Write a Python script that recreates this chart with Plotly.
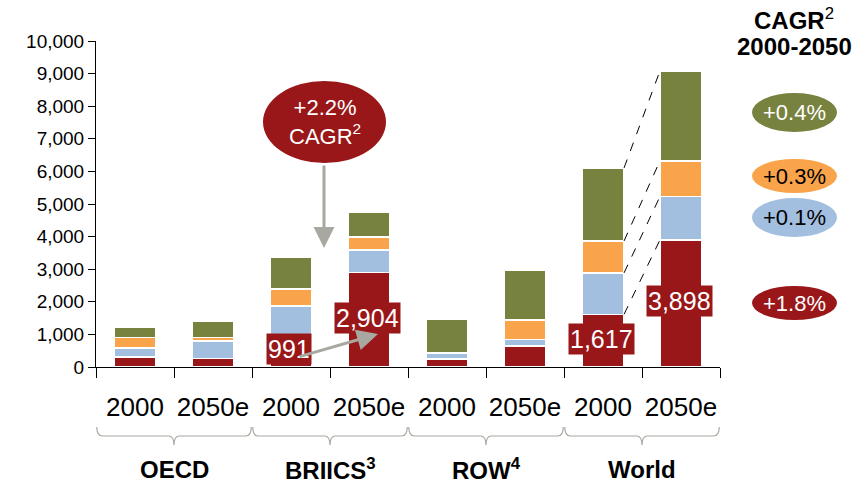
import numpy as np
import plotly.graph_objects as go

# data
cats = ["2000", "2050e"] * 4
groups = ["OECD", "BRIICS<sup>3</sup>", "ROW<sup>4</sup>", "World"]
red = [300, 260, 991, 2904, 240, 645, 1617, 3898]
blue = [290, 540, 880, 680, 170, 205, 1270, 1330]
orange = [320, 100, 520, 410, 30, 585, 980, 1095]
green = [305, 500, 980, 765, 1040, 1530, 2240, 2760]
labelled = [2, 3, 6, 7]          # bars with a value box on the red part
cagr_region = "+2.2%<br>CAGR<sup>2</sup>"
cagr_world = ["+1.8%", "+0.1%", "+0.3%", "+0.4%"]   # red, blue, orange, green

RED = "#9A1719"
BLUE = "#A3BFE0"
ORANGE = "#F9A34A"
GREEN = "#78823F"
GREY = "#A8A8A0"
FONT = "Arial, Liberation Sans, sans-serif"

# plot area in pixels (for decorations placed in paper coords)
L, R, T, B = 96, 720, 41, 367
def px(x):
    return (x - L) / (R - L)
def py(y):
    return (B - y) / (B - T)

xs = list(range(len(cats)))
bw = 0.54

fig = go.Figure()
for vals, col in [(red, RED), (blue, BLUE), (orange, ORANGE), (green, GREEN)]:
    fig.add_trace(go.Bar(x=xs, y=vals, width=bw, marker_color=col,
                         marker_line=dict(color="white", width=1.5),
                         hoverinfo="skip"))

fig.update_layout(
    barmode="stack", width=860, height=483, showlegend=False,
    plot_bgcolor="white", paper_bgcolor="white",
    margin=dict(l=L, r=860 - R, t=T, b=483 - B),
    font=dict(family=FONT, color="black"),
)
fig.update_xaxes(range=[-0.5, 7.5], tickvals=xs, ticktext=cats, ticks="",
                 tickfont=dict(size=26), ticklabelstandoff=17,
                 showline=True, linecolor="black", linewidth=1, showgrid=False,
                 minor=dict(tickvals=[i - 0.5 for i in range(9)], ticks="outside",
                            ticklen=10, tickcolor="black", tickwidth=1))
fig.update_yaxes(range=[0, 10000], dtick=1000, tickformat=",", ticks="outside",
                 ticklen=7, tickcolor="black", tickfont=dict(size=19),
                 showline=True, linecolor="black", linewidth=1, showgrid=False,
                 zeroline=False)

shapes = []
ann = []

def label(x, y, text, size, color="black", **kw):
    ann.append(dict(xref="paper", yref="paper", x=x, y=y, text=text, showarrow=False,
                    xanchor="center", yanchor="middle",
                    font=dict(size=size, color=color), **kw))

# value boxes on the red segments
for i in labelled:
    ann.append(dict(x=i, y=red[i] / 2, text=f"{red[i]:,}", showarrow=False,
                    xanchor="center", yanchor="middle",
                    xshift=-2, yshift=2, bgcolor=RED, borderpad=1,
                    font=dict(size=25, color="white")))

# dashed connectors between World 2000 and World 2050e
c0 = np.cumsum([red[6], blue[6], orange[6], green[6]])
c1 = np.cumsum([red[7], blue[7], orange[7], green[7]])
for a, b in zip(c0, c1):
    shapes.append(dict(type="line", xref="x", yref="y", x0=6 + bw / 2, y0=a,
                       x1=7 - bw / 2, y1=b, line=dict(color="black", width=1, dash="dash")))

# regional CAGR bubble + arrows
shapes.append(dict(type="circle", xref="paper", yref="paper", x0=px(263), x1=px(386),
                   y0=py(163), y1=py(81), fillcolor=RED, line=dict(width=0)))
label(px(324.5), py(122), cagr_region, 22, "white")
ann.append(dict(xref="paper", yref="paper", x=px(324), y=py(248), text="", showarrow=True,
                ax=0, ay=-84, arrowhead=2, arrowsize=1.4, arrowwidth=3, arrowcolor=GREY))
ann.append(dict(xref="paper", yref="paper", x=px(378), y=py(334), text="", showarrow=True,
                ax=-80, ay=23, arrowhead=2, arrowsize=1.4, arrowwidth=3, arrowcolor=GREY))

# world CAGR header and bubbles
label(px(794), py(19), "<b>CAGR</b><sup>2</sup>", 24)
label(px(794), py(46), "<b>2000-2050</b>", 24)
bubbles = [(286, 320, RED, "white"), (198, 237, BLUE, "black"),
           (159, 193, ORANGE, "black"), (93, 132, GREEN, "white")]
for (y0, y1, col, tc), txt in zip(bubbles, cagr_world):
    shapes.append(dict(type="circle", xref="paper", yref="paper", x0=px(752), x1=px(837),
                       y0=py(y1), y1=py(y0), fillcolor=col, line=dict(width=0)))
    label(px(794.5), py((y0 + y1) / 2), txt, 22, tc)

# braces and group labels
yt, ym, yb = py(427), py(436), py(445)
r = 0.07
for g, name in enumerate(groups):
    x0, x1, xm = 2 * g - 0.49, 2 * g + 1.49, 2 * g + 0.5
    path = (f"M{x0},{yt} Q{x0},{ym} {x0 + r},{ym} L{xm - r},{ym} Q{xm},{ym} {xm},{yb} "
            f"Q{xm},{ym} {xm + r},{ym} L{x1 - r},{ym} Q{x1},{ym} {x1},{yt}")
    shapes.append(dict(type="path", xref="x", yref="paper", path=path,
                       line=dict(color=GREY, width=1.2)))
    ann.append(dict(x=xm, xref="x", yref="paper", y=py(469), text=f"<b>{name}</b>",
                    xanchor="center", yanchor="middle",
                    showarrow=False, font=dict(size=24)))

fig.update_layout(shapes=shapes, annotations=ann)
fig.write_html("out.html", config={"displayModeBar": False},
               post_script="document.body.style.margin = '0';")
